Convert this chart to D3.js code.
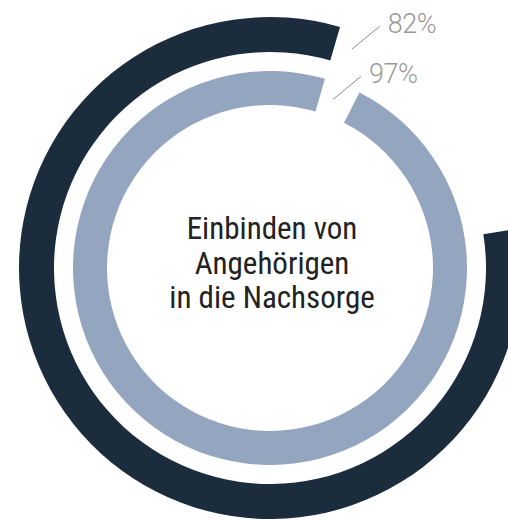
<!DOCTYPE html>
<html>
<head>
<meta charset="utf-8">
<script src="https://cdn.jsdelivr.net/npm/d3@7"></script>
<style>
  html, body { margin: 0; padding: 0; background: #fff; }
  svg { display: block; }
</style>
</head>
<body>
<div id="chart"></div>
<script>
// data
const series = ['Außen', 'Innen'];
const values = [82, 97];
const labels = ['82%', '97%'];
const colors = ['#1b2c3d', '#94a5bf'];
const titleLines = ['Einbinden von', 'Angehörigen', 'in die Nachsorge'];

const width = 508, height = 520;
const cx = 270, cy = 268;
// both rings end at the same angle, at the top right
const endAngle = 16.2 * Math.PI / 180;
const rings = [
  { inner: 216, outer: 251 },
  { inner: 163, outer: 197 }
];

const svg = d3.select('#chart').append('svg')
  .attr('width', width)
  .attr('height', height);

const g = svg.append('g').attr('transform', `translate(${cx},${cy})`);

const scale = d3.scaleLinear().domain([0, 100]).range([0, 2 * Math.PI]);
const arc = d3.arc();

const data = values.map((v, i) => ({
  name: series[i],
  value: v,
  label: labels[i],
  color: colors[i],
  innerRadius: rings[i].inner,
  outerRadius: rings[i].outer,
  startAngle: endAngle - scale(v),
  endAngle: endAngle
}));

g.selectAll('path.ring')
  .data(data)
  .join('path')
  .attr('class', 'ring')
  .attr('d', d => arc(d))
  .attr('fill', d => d.color);

// leader lines + percentage labels, just past the end of each ring
const leadAngle = 20.5 * Math.PI / 180;
const lead = { dx: 28, dy: -23 };

data.forEach(d => {
  const r = (d.innerRadius + d.outerRadius) / 2;
  const x0 = Math.sin(leadAngle) * r;
  const y0 = -Math.cos(leadAngle) * r;
  const x1 = x0 + lead.dx, y1 = y0 + lead.dy;
  g.append('line')
    .attr('x1', x0).attr('y1', y0)
    .attr('x2', x1).attr('y2', y1)
    .attr('stroke', '#8a8a8a')
    .attr('stroke-width', 1);
  g.append('text')
    .attr('x', x1 + 8)
    .attr('y', y1 + 7)
    .attr('font-family', 'Roboto, "Liberation Sans", sans-serif')
    .attr('font-weight', 300)
    .attr('font-size', 27)
    .attr('letter-spacing', -0.5)
    .attr('fill', '#999')
    .text(d.label);
});

// centre title
const title = g.append('text')
  .attr('text-anchor', 'middle')
  .attr('font-family', '"Roboto Condensed", "Liberation Sans Narrow", Roboto, sans-serif')
  .attr('font-size', 31)
  .attr('fill', '#222');

title.selectAll('tspan')
  .data(titleLines)
  .join('tspan')
  .attr('x', 2)
  .attr('y', (d, i) => -29 + i * 34.5)
  .text(d => d);
</script>
</body>
</html>
